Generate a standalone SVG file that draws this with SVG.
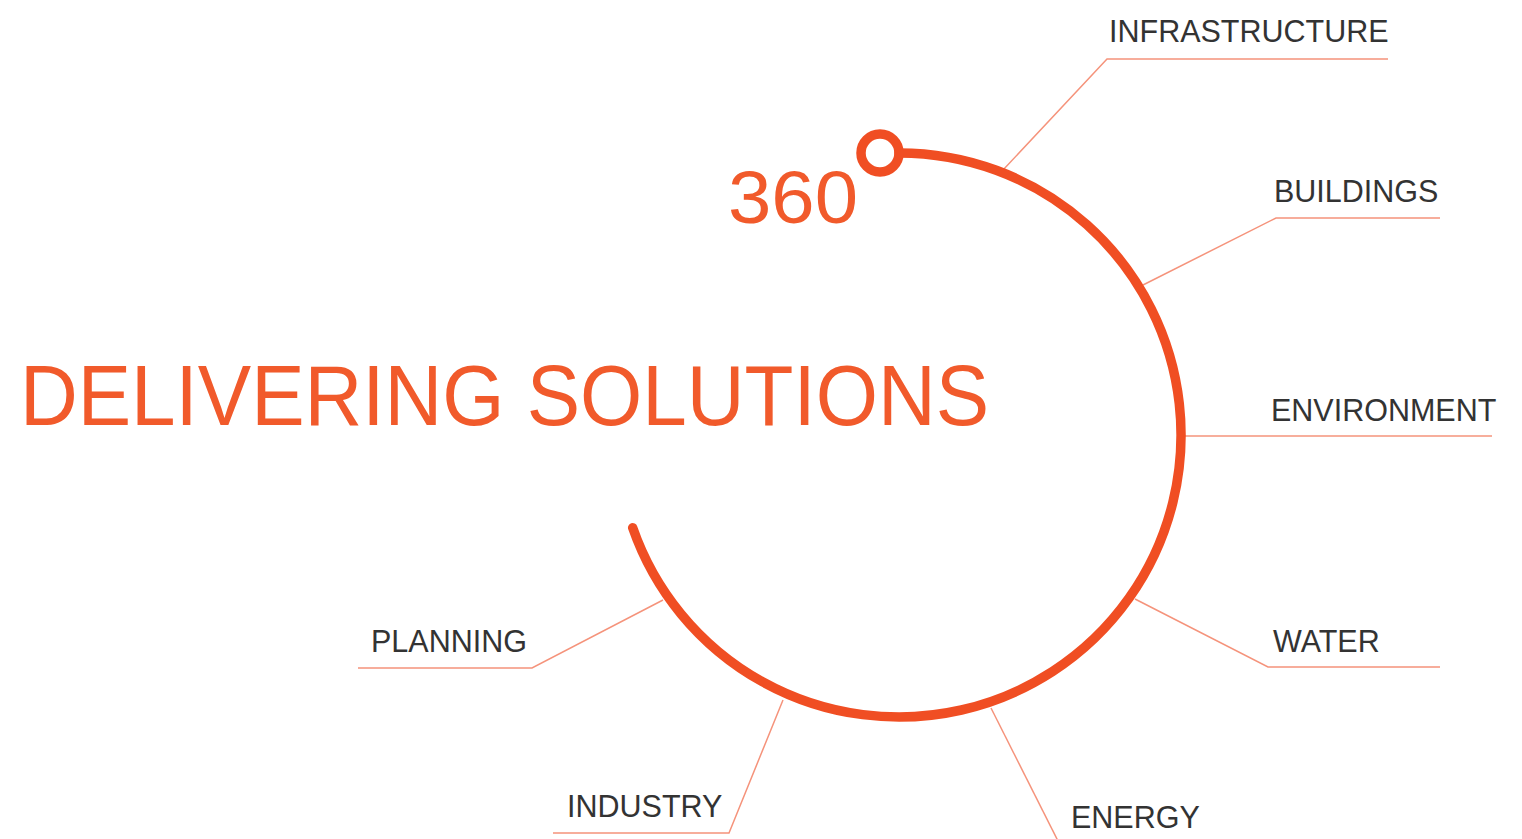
<svg xmlns="http://www.w3.org/2000/svg" width="1522" height="839" viewBox="0 0 1522 839">
  <style>
    .lbl { font-family: "Liberation Sans", Arial, sans-serif; font-size: 30.5px; fill: #333333; }
    .conn { fill: none; stroke: #F5937B; stroke-width: 1.5; }
    .ring { fill: none; stroke: #F04E23; stroke-width: 9.5; }
    .title { font-family: "Liberation Sans", Arial, sans-serif; fill: #F15A2B; }
  </style>
  <rect width="1522" height="839" fill="#ffffff"/>
  <g id="connectors">
    <polyline class="conn" points="1003,170 1107,59 1388,59"/>
    <polyline class="conn" points="1143,285 1276,218 1440,218"/>
    <polyline class="conn" points="1185,436 1492,436"/>
    <polyline class="conn" points="1135,599 1268,667 1440,667"/>
    <polyline class="conn" points="991,708 1060,845"/>
    <polyline class="conn" points="783,700 729,833 553,833"/>
    <polyline class="conn" points="663,600 532,668 358,668"/>
  </g>
  <g id="ring">
    <path class="ring" d="M 899 153 A 282 282 0 1 1 632.7 527.7" stroke-linecap="round"/>
    <circle class="ring" cx="880" cy="153" r="19" stroke-width="9"/>
  </g>
  <g id="title">
    <text class="title" x="728" y="223" font-size="75" textLength="130" lengthAdjust="spacingAndGlyphs">360</text>
    <text class="title" x="20" y="425" font-size="85" textLength="969" lengthAdjust="spacingAndGlyphs">DELIVERING SOLUTIONS</text>
  </g>
  <g id="node-infrastructure"><text class="lbl" x="1109" y="42">INFRASTRUCTURE</text></g>
  <g id="node-buildings"><text class="lbl" x="1274" y="202">BUILDINGS</text></g>
  <g id="node-environment"><text class="lbl" x="1271" y="421">ENVIRONMENT</text></g>
  <g id="node-water"><text class="lbl" x="1273" y="652">WATER</text></g>
  <g id="node-energy"><text class="lbl" x="1071" y="828">ENERGY</text></g>
  <g id="node-industry"><text class="lbl" x="567" y="817">INDUSTRY</text></g>
  <g id="node-planning"><text class="lbl" x="371" y="652">PLANNING</text></g>
</svg>
